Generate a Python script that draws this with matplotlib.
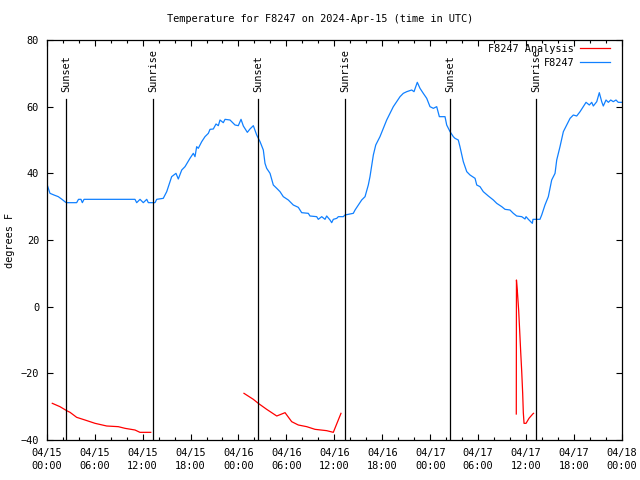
import numpy as np
import matplotlib
matplotlib.use("Agg")
import matplotlib.pyplot as plt
from matplotlib.ticker import MultipleLocator, FixedLocator

# hours since 2024-04-15 00:00 UTC
obs_hours = [0.0, 0.41, 0.91, 1.45, 1.91, 2.38, 2.5, 3.75, 3.98, 4.29, 4.46, 4.67,
             11.05, 11.26, 11.68, 12.09, 12.52, 12.72, 13.55, 13.77, 14.59, 15.02,
             15.64, 16.18, 16.47, 16.9, 17.31, 17.93, 18.35, 18.56, 18.77, 18.97,
             19.4, 19.81, 20.23, 20.44, 20.85, 21.19, 21.48, 21.69, 22.1, 22.32,
             22.94, 23.57, 23.98, 24.32, 24.61, 25.11, 25.44, 25.86, 26.28, 26.7,
             27.11, 27.32, 27.53, 27.95, 28.36, 28.79, 29.2, 29.61, 30.24, 30.86,
             31.49, 31.91, 32.74, 32.95, 33.79, 33.99, 34.42, 34.83, 35.04, 35.46,
             35.67, 35.87, 36.3, 36.5, 37.12, 37.33, 38.37, 38.59, 39.0, 39.42,
             39.84, 40.25, 40.46, 40.88, 41.18, 41.71, 42.13, 42.55, 42.97, 43.38,
             43.8, 44.22, 44.63, 45.06, 45.68, 45.97, 46.38, 46.72, 47.13, 47.56,
             47.97, 48.39, 48.81, 49.14, 49.85, 50.06, 50.48, 50.89, 51.1, 51.51,
             51.72, 52.14, 52.57, 52.98, 53.61, 53.82, 54.23, 54.64, 55.27, 55.9,
             56.32, 56.95, 57.36, 57.98, 58.4, 58.82, 59.45, 59.86, 59.99, 60.28,
             60.78, 60.86, 61.73, 61.95, 62.36, 62.78, 63.2, 63.62, 63.83, 64.24,
             64.66, 65.08, 65.5, 65.91, 66.33, 66.75, 67.16, 67.5, 67.91, 68.21,
             68.41, 68.84, 69.16, 69.46, 69.66, 70.0, 70.29, 70.59, 70.91, 71.25,
             71.53, 71.96]
obs_temp = [37, 34, 33.5, 33, 32.2, 31.3, 31.2, 31.2, 32.2, 32.2, 31.2, 32.2,
            32.2, 31.2, 32.2, 31.2, 32.2, 31.2, 31.2, 32.2, 32.5, 34.5,
            39, 40, 38.3, 41, 42, 44.5, 46, 45, 48, 47.5,
            49.5, 51, 52, 53.2, 53.3, 54.8, 54.3, 56, 55.2, 56.2,
            56, 54.5, 54.3, 56.2, 54.2, 52.3, 53.3, 54.3, 51.5, 49.5,
            47, 43, 41.5, 40, 36.5, 35.5, 34.5, 33, 32, 30.5,
            29.8, 28.2, 28, 27.2, 27, 26.2, 27, 26.2, 27.2, 26,
            25.2, 26.2, 26.5, 27, 27, 27.5, 28, 29, 30.5, 32,
            33, 36.5, 39, 45.5, 48.5, 51, 53.5, 56, 58, 60,
            61.5, 63, 64, 64.5, 65, 64.5, 67.3, 65.5, 64, 62.5,
            60, 59.5, 60, 57, 57, 54.5, 52.5, 51, 50.5, 50,
            48, 43.5, 40.5, 39.5, 38.5, 36.5, 36, 34.5, 33.2, 32,
            31, 30, 29.2, 29, 28, 27.2, 27, 26.3, 27, 26.2,
            25, 26.2, 26.2, 27.5, 30.5, 33, 38, 40, 44, 48,
            52.5, 54.5, 56.5, 57.5, 57.2, 58.5, 60, 61.3, 60.5, 61.3,
            60.2, 61.5, 64.2, 61.5, 60.2, 62, 61.3, 62, 61.5, 62,
            61.3, 61.3]

# analysis series (NaN marks gaps)
ana_hours = [0.7, 1.66, 2.5, 2.92, 3.75, 4.79, 5.42, 6.05, 7.51, 8.96, 9.8, 11.05, 11.67, 13.02,
             13.5,
             24.69, 25.86, 26.48, 27.53, 28.79, 29.83, 30.66, 31.49, 32.54, 33.58, 35.04, 35.87, 36.83,
             37.5,
             58.77, 58.79, 58.9, 59.07, 59.2, 59.32, 59.45, 59.57, 59.65, 59.74, 59.99, 60.36, 60.83, 60.93]
ana_temp = [-29, -30, -31.2, -31.7, -33.2, -34, -34.5, -35, -35.8, -36, -36.5, -37, -37.7, -37.7,
            np.nan,
            -26, -27.8, -29, -30.8, -32.8, -31.8, -34.5, -35.5, -36, -36.8, -37.2, -37.7, -32,
            np.nan,
            -32.2, 8, 4.8, -1.2, -7.5, -13.5, -19.5, -26, -31.8, -35, -35, -33.5, -32.2, -32]

sun_hours = [2.45, 13.34, 26.48, 37.37, 50.5, 61.27]
sun_labels = ["Sunset", "Sunrise", "Sunset", "Sunrise", "Sunset", "Sunrise"]

xtick_hours = list(range(0, 73, 6))
xtick_labels = ["04/15\n00:00", "04/15\n06:00", "04/15\n12:00", "04/15\n18:00",
                "04/16\n00:00", "04/16\n06:00", "04/16\n12:00", "04/16\n18:00",
                "04/17\n00:00", "04/17\n06:00", "04/17\n12:00", "04/17\n18:00",
                "04/18\n00:00"]

FONT = "DejaVu Sans Mono"
FS = 7.4
plt.rcParams['font.family'] = [FONT]
plt.rcParams['font.size'] = FS

fig = plt.figure(figsize=(6.4, 4.8), dpi=100)
ax = fig.add_axes([46.7 / 640, 1 - 440 / 480, (622 - 46.7) / 640, 400 / 480])

ax.plot(ana_hours, ana_temp, color='#ff0000', lw=0.9, label='F8247 Analysis')
ax.plot(obs_hours, obs_temp, color='#1080ff', lw=0.9, label='F8247')

for h, lab in zip(sun_hours, sun_labels):
    ax.axvline(h, ymin=0, ymax=0.852, color='black', lw=0.9)
    ax.text(h, 0.87, lab, transform=ax.get_xaxis_transform(), rotation=90,
            ha='center', va='bottom', fontsize=FS)

ax.set_xlim(0, 72)
ax.set_ylim(-40, 80)
ax.xaxis.set_major_locator(FixedLocator(xtick_hours))
ax.set_xticklabels(xtick_labels, linespacing=1.45)
ax.xaxis.set_minor_locator(MultipleLocator(2))
ax.yaxis.set_major_locator(MultipleLocator(20))
ax.tick_params(axis='both', which='major', direction='in', length=4, width=0.8,
               top=True, right=True, labelsize=FS)
ax.tick_params(axis='x', which='major', pad=5.5)
ax.tick_params(axis='y', which='major', pad=5.5)
ax.tick_params(axis='x', which='minor', direction='in', length=2.2, width=0.8,
               top=True, bottom=True)
for s in ax.spines.values():
    s.set_linewidth(0.9)

fig.text(0.5, 1 - 19 / 480, "Temperature for F8247 on 2024-Apr-15 (time in UTC)",
         ha='center', va='center', fontsize=FS)
fig.text(10 / 640, 0.5, "degrees F", rotation=90, ha='center', va='center', fontsize=FS)

leg = ax.legend(loc='upper right', bbox_to_anchor=(610 / 640, 1 - 44 / 480),
                bbox_transform=fig.transFigure, frameon=False, markerfirst=False,
                borderpad=0, borderaxespad=0, handlelength=2.9, handletextpad=0.6,
                labelspacing=0.35, fontsize=FS)

fig.savefig("out.png", dpi=100)
